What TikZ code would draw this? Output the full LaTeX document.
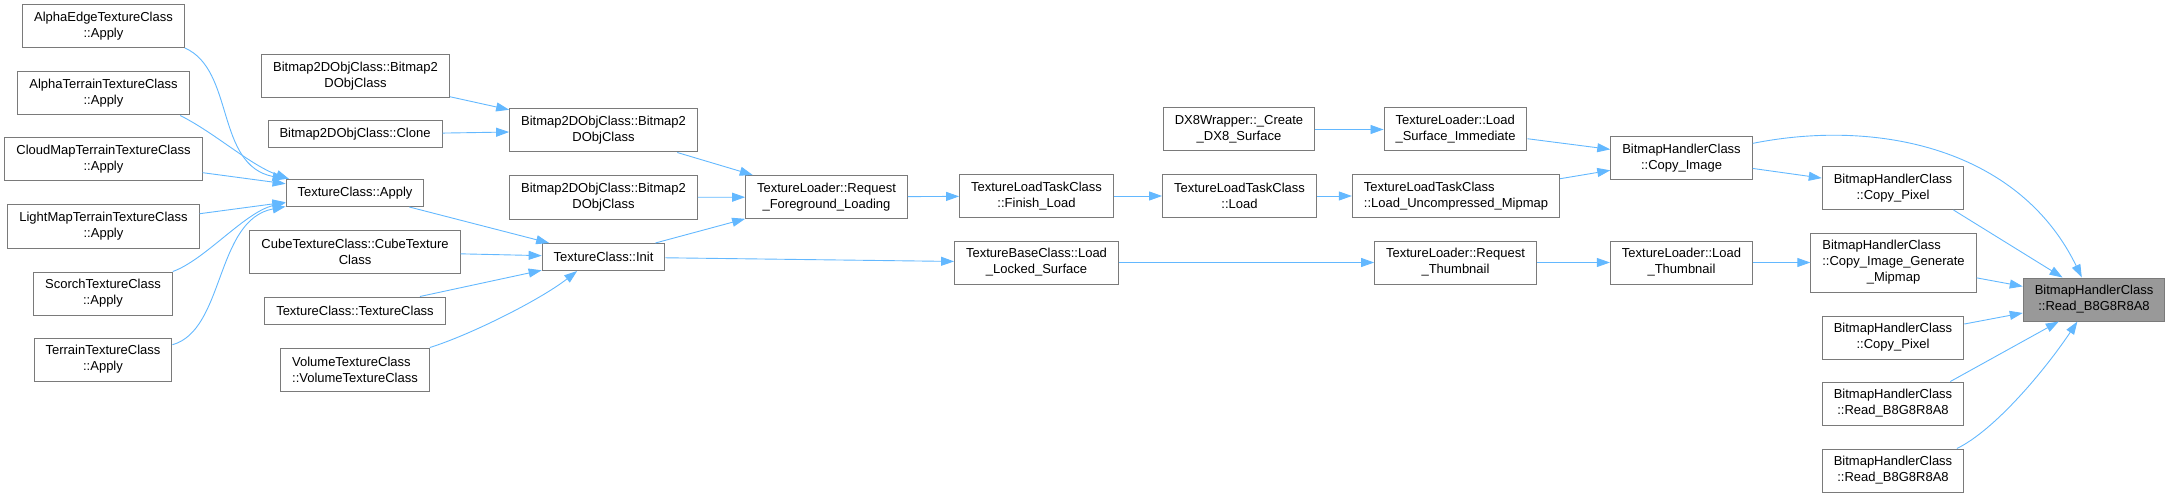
\documentclass[tikz,border=0pt]{standalone}
\usepackage{fontspec}
\setmainfont{Liberation Sans}
\usetikzlibrary{arrows.meta}
\definecolor{edgeblue}{HTML}{63B8FF}
\definecolor{boxgray}{HTML}{7A7A7A}
\definecolor{curgray}{HTML}{999999}

\begin{document}
\begin{tikzpicture}[x=1pt,y=-1pt,
  fn/.style={draw=boxgray, fill=white, line width=1pt, font=\fontsize{13}{16}\selectfont, inner xsep=11.5pt, inner ysep=2pt, minimum height=27pt, align=center},
  fn2/.style={fn, minimum height=43pt},
  fn3/.style={fn, minimum height=59pt},
  calls/.style={draw=edgeblue, line width=0.9pt, -{Triangle[length=13pt,width=9pt]}}]
  \useasboundingbox (0,0) rectangle (2170,497);
  % callers of TextureClass::Apply
  \node[fn2] (aEdge) at (103.5,26) {AlphaEdgeTextureClass\\::Apply};
  \node[fn2] (aTerr) at (103.5,93.5) {AlphaTerrainTextureClass\\::Apply};
  \node[fn2] (cloud) at (103.5,159.5) {CloudMapTerrainTextureClass\\::Apply};
  \node[fn2] (light) at (103.5,226.5) {LightMapTerrainTextureClass\\::Apply};
  \node[fn2] (scorch) at (103,293.5) {ScorchTextureClass\\::Apply};
  \node[fn2] (terr) at (103,359.5) {TerrainTextureClass\\::Apply};
  % second column
  \node[fn2] (bmpA) at (355.5,76) {Bitmap2DObjClass::Bitmap2\\DObjClass};
  \node[fn] (clone) at (355,134.5) {Bitmap2DObjClass::Clone};
  \node[fn] (texApply) at (355,193) {TextureClass::Apply};
  \node[fn2] (cube) at (355,251.5) {CubeTextureClass::CubeTexture\\Class};
  \node[fn] (texCtor) at (355,310.5) {TextureClass::TextureClass};
  \node[fn2, align=left] (volume) at (355,369.5) {VolumeTextureClass\\::VolumeTextureClass};
  % third column
  \node[fn2] (bmpB) at (603.5,130.5) {Bitmap2DObjClass::Bitmap2\\DObjClass};
  \node[fn2] (bmpC) at (603.5,197.5) {Bitmap2DObjClass::Bitmap2\\DObjClass};
  \node[fn] (init) at (603.5,257) {TextureClass::Init};
  % loader chain
  \node[fn2] (reqFG) at (826.5,197) {TextureLoader::Request\\\_Foreground\_Loading};
  \node[fn2] (finish) at (1036.5,196) {TextureLoadTaskClass\\::Finish\_Load};
  \node[fn2] (locked) at (1036.5,262.5) {TextureBaseClass::Load\\\_Locked\_Surface};
  \node[fn2] (dx8) at (1239,129.5) {DX8Wrapper::\_Create\\\_DX8\_Surface};
  \node[fn2] (tltLoad) at (1239.5,196) {TextureLoadTaskClass\\::Load};
  \node[fn2, align=left] (surfImm) at (1455.5,129.5) {TextureLoader::Load\\\_Surface\_Immediate};
  \node[fn2, align=left] (uncomp) at (1456,196) {TextureLoadTaskClass\\::Load\_Uncompressed\_Mipmap};
  \node[fn2] (reqThumb) at (1455.5,262.5) {TextureLoader::Request\\\_Thumbnail};
  \node[fn2] (copyImg) at (1681.5,158.5) {BitmapHandlerClass\\::Copy\_Image};
  \node[fn2] (loadThumb) at (1681.5,262.5) {TextureLoader::Load\\\_Thumbnail};
  % direct callers of Read_B8G8R8A8
  \node[fn2] (copyPx1) at (1893,188) {BitmapHandlerClass\\::Copy\_Pixel};
  \node[fn3] (genMip) at (1893.5,262.5) {\begin{tabular}{@{}l@{}}BitmapHandlerClass\\::Copy\_Image\_Generate\\\multicolumn{1}{@{}c@{}}{\_Mipmap}\end{tabular}};
  \node[fn2] (copyPx2) at (1893,337.5) {BitmapHandlerClass\\::Copy\_Pixel};
  \node[fn2] (readA) at (1893,403.5) {BitmapHandlerClass\\::Read\_B8G8R8A8};
  \node[fn2] (readB) at (1893,470.5) {BitmapHandlerClass\\::Read\_B8G8R8A8};
  \node[fn2, fill=curgray] (read) at (2094,299.5) {BitmapHandlerClass\\::Read\_B8G8R8A8};
  % edges
  \draw[calls] (aEdge.south east) .. controls (235,70) and (215,165) .. (texApply.north west);
  \draw[calls] (aTerr.-16.5) .. controls (215,133) and (250,165) .. (texApply.168);
  \draw[calls] (cloud) -- (texApply);
  \draw[calls] (light) -- (texApply);
  \draw[calls] (scorch.north east) .. controls (205,260) and (245,212) .. (texApply.188);
  \draw[calls] (terr.12) .. controls (225,330) and (215,220) .. (texApply.191);
  \draw[calls] (bmpA) -- (bmpB);
  \draw[calls] (clone) -- (bmpB);
  \draw[calls] (texApply) -- (init);
  \draw[calls] (cube) -- (init);
  \draw[calls] (texCtor) -- (init);
  \draw[calls] (volume.north east) .. controls (470,335) and (540,300) .. (init.208);
  \draw[calls] (bmpB) -- (reqFG);
  \draw[calls] (bmpC) -- (reqFG);
  \draw[calls] (init) -- (reqFG);
  \draw[calls] (init) -- (locked);
  \draw[calls] (reqFG) -- (finish);
  \draw[calls] (finish) -- (tltLoad);
  \draw[calls] (tltLoad) -- (uncomp);
  \draw[calls] (dx8) -- (surfImm);
  \draw[calls] (surfImm) -- (copyImg);
  \draw[calls] (uncomp) -- (copyImg);
  \draw[calls] (locked) -- (reqThumb);
  \draw[calls] (reqThumb) -- (loadThumb);
  \draw[calls] (loadThumb) -- (genMip);
  \draw[calls] (copyImg) -- (copyPx1);
  \draw[calls] (copyImg.12) .. controls (1880,118) and (2020,150) .. (read.119);
  \draw[calls] (copyPx1.-20) -- (read.145);
  \draw[calls] (genMip) -- (read);
  \draw[calls] (copyPx2) -- (read);
  \draw[calls] (readA.21) -- (read.212);
  \draw[calls] (readB.19) .. controls (1995,430) and (2045,370) .. (read.233);
\end{tikzpicture}
\end{document}
